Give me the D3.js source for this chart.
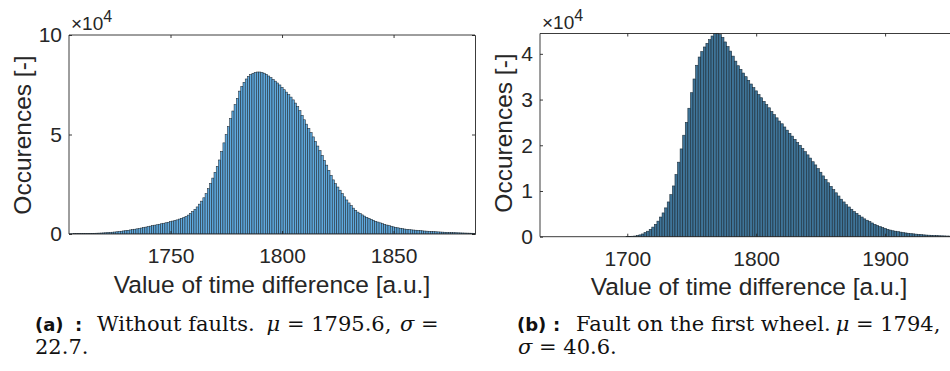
<!DOCTYPE html>
<html><head><meta charset="utf-8">
<script src="https://cdn.jsdelivr.net/npm/d3@7"></script>
<style>
html,body{margin:0;padding:0;background:#fff;}
svg{display:block;}
</style>
</head><body>
<svg id="c" width="950" height="371"></svg>
<script>
// ---------------- DATA ----------------
// Panel (a): histogram, bin width 1, first bin centred at 1705 (counts in thousands)
const binStartA = 1705;
const binWidthA = 1;
const countsA_k = [
0.10,0.12,0.14,0.16,0.18,0.20,0.22,0.24,0.27,0.30,
0.33,0.37,0.41,0.45,0.50,0.56,0.63,0.71,0.80,0.90,
1.00,1.12,1.25,1.40,1.55,1.70,1.87,2.05,2.22,2.40,
2.60,2.80,3.00,3.25,3.47,3.70,3.95,4.20,4.45,4.65,
4.90,5.15,5.40,5.65,5.90,6.20,6.50,6.80,7.10,7.50,
7.90,8.30,8.80,9.50,10.3,11.3,12.4,13.6,15.0,16.5,
18.2,20.3,22.8,25.4,28.1,31.0,34.0,37.2,41.5,45.8,
50.0,54.0,58.0,61.8,65.0,68.2,71.8,74.2,76.2,77.9,
79.2,80.1,80.7,81.2,81.4,81.4,81.2,80.8,80.2,79.4,
78.6,77.7,76.8,75.9,74.9,73.7,72.5,71.3,70.0,68.8,
67.4,65.8,64.0,62.0,59.6,57.4,55.2,53.1,51.0,48.8,
46.5,44.2,41.9,39.5,37.0,34.6,32.0,29.5,27.2,25.3,
23.6,22.0,20.3,18.7,17.1,15.6,14.3,13.0,11.9,11.0,
10.3,9.6,9.0,8.4,7.9,7.4,6.9,6.4,6.0,5.6,
5.2,4.85,4.5,4.2,3.9,3.6,3.35,3.1,2.9,2.7,
2.5,2.35,2.2,2.1,2.0,1.9,1.8,1.7,1.6,1.5,
1.42,1.35,1.27,1.2,1.13,1.06,1.0,0.94,0.88,0.83,
0.78,0.73,0.68,0.64,0.6,0.56,0.52,0.48,0.45,0.42,
0.39,0.36
];
// Panel (b): histogram, bin width 2, first bin centred at 1700 (counts in thousands)
const binStartB = 1700;
const binWidthB = 2;
const countsB_k = [
0.02,0.05,0.1,0.15,0.25,0.4,0.6,0.9,1.2,1.6,
2.1,2.7,3.4,4.3,5.2,6.3,7.6,9.2,11.1,13.6,
16.3,19.2,22.2,25.0,28.1,31.5,34.5,37.5,39.3,40.5,
41.5,42.3,43.1,43.9,44.4,44.5,44.2,43.6,42.6,41.6,
40.6,39.5,38.4,37.4,36.6,35.8,35.0,34.2,33.4,32.6,
31.9,31.1,30.4,29.6,28.9,28.2,27.4,26.7,26.0,25.3,
24.7,24.0,23.3,22.6,22.0,21.3,20.6,20.0,19.3,18.6,
17.9,17.2,16.4,15.7,14.9,14.1,13.3,12.5,11.8,11.0,
10.3,9.6,8.9,8.2,7.6,7.0,6.5,6.0,5.5,5.1,
4.7,4.3,3.9,3.6,3.3,3.0,2.7,2.45,2.2,2.0,
1.8,1.6,1.45,1.3,1.2,1.1,1.0,0.9,0.82,0.75,
0.68,0.62,0.56,0.5,0.45,0.4,0.36,0.33,0.3,0.27,
0.24,0.21,0.19,0.17,0.15,0.13,0.11
];
const xTicksA = [1750, 1800, 1850];
const yTicksA = [0, 50000, 100000];
const yTickLabelsA = ["0", "5", "10"];
const xTicksB = [1700, 1800, 1900];
const yTicksB = [0, 10000, 20000, 30000, 40000];
const yTickLabelsB = ["0", "1", "2", "3", "4"];
const xLabel = "Value of time difference [a.u.]";
const yLabel = "Occurences [-]";

// ---------------- DRAW ----------------
const svg = d3.select("#c");
svg.append("rect").attr("width",950).attr("height",371).attr("fill","#fff");
const axisCol = "#262626";
const sans = '"Liberation Sans", Arial, sans-serif';
const serif = '"DejaVu Serif", "Liberation Serif", serif';
const boldSans = '"DejaVu Sans", sans-serif';

function panel(o){
  const g = svg.append("g");
  const x = d3.scaleLinear().domain(o.xDom).range([o.left, o.right]);
  const y = d3.scaleLinear().domain(o.yDom).range([o.bottom, o.top]);
  const bins = o.counts.map((c,i)=>({c0: o.start + i*o.w - o.w/2, c1: o.start + i*o.w + o.w/2, v: c*1000}));
  const clipId = "clip"+o.id;
  svg.append("clipPath").attr("id",clipId).append("rect")
    .attr("x",o.left).attr("y",o.top-1).attr("width",o.right-o.left).attr("height",o.bottom-o.top+1);
  g.append("g").attr("clip-path",`url(#${clipId})`)
    .selectAll("rect").data(bins).join("rect")
    .attr("x",d=>x(d.c0)).attr("width",d=>x(d.c1)-x(d.c0))
    .attr("y",d=>y(d.v)).attr("height",d=>y(0)-y(d.v))
    .attr("fill",o.fill).attr("stroke",o.stroke).attr("stroke-width",o.sw);

  const fmt = (d,i)=>o.yLabels[i];
  const ax = g.append("g").attr("transform",`translate(0,${o.bottom})`)
    .call(d3.axisBottom(x).tickValues(o.xTicks).tickSize(-3).tickPadding(14).tickFormat(d3.format("d")));
  const axT = g.append("g").attr("transform",`translate(0,${o.top})`)
    .call(d3.axisTop(x).tickValues(o.xTicks).tickSize(-3).tickFormat(""));
  const ay = g.append("g").attr("transform",`translate(${o.left},0)`)
    .call(d3.axisLeft(y).tickValues(o.yTicks).tickSize(-3).tickPadding(7).tickFormat(fmt));
  const axes = [ax, axT, ay];
  if(o.rightAxis){
    const ar = g.append("g").attr("transform",`translate(${o.right},0)`)
      .call(d3.axisRight(y).tickValues(o.yTicks).tickSize(-3).tickFormat(""));
    axes.push(ar);
  }
  axes.forEach(a=>{
    a.select(".domain").attr("stroke",axisCol).attr("stroke-width",0.9);
    a.selectAll(".tick line").attr("stroke",axisCol).attr("stroke-width",0.9);
    a.selectAll(".tick text").attr("fill",axisCol).style("font-size","21px").style("font-family",sans);
  });
  ay.select(".domain").attr("d",`M0,${o.bottom}V${o.top}`);
  ax.select(".domain").attr("d",`M${o.left},0H${o.right}`);
  axT.select(".domain").attr("d",`M${o.left},0H${o.right}`);

  // exponent label
  const ex = g.append("text").attr("x",o.left+2).attr("y",o.top-5)
    .attr("fill",axisCol).style("font-family",sans).style("font-size","19px");
  ex.append("tspan").text("×10");
  ex.append("tspan").attr("dy",-8).style("font-size","16px").text("4");

  // axis labels
  g.append("text").attr("x",o.xlx).attr("y",o.xly).attr("text-anchor","middle")
    .attr("fill",axisCol).style("font-family",sans).style("font-size","24.5px").text(xLabel);
  g.append("text").attr("transform",`translate(${o.ylx},${o.yly}) rotate(-90)`).attr("text-anchor","middle")
    .attr("fill",axisCol).style("font-family",sans).style("font-size","24.5px").text(yLabel);

  // caption
  const capG = g.append("g").attr("fill","#111");
  capG.append("text").attr("x",o.capX).attr("y",331)
    .style("font-family",boldSans).style("font-weight","bold").style("font-size","18px").text(o.capTag);
  capG.append("text").attr("x",o.colonX).attr("y",331)
    .style("font-family",boldSans).style("font-weight","bold").style("font-size","18px").text(":");
  const cap = capG.append("text").attr("x",o.txtX).attr("y",331)
    .style("font-family",serif).style("font-size","21px");
  o.cap1.forEach(s=>{ const t=cap.append("tspan").text(s.t); if(s.i) t.style("font-style","italic"); if(s.dx) t.attr("dx",s.dx); });
  const cap2 = capG.append("text").attr("x",o.capX2).attr("y",354)
    .style("font-family",serif).style("font-size","21px");
  o.cap2.forEach(s=>{ const t=cap2.append("tspan").text(s.t); if(s.i) t.style("font-style","italic"); if(s.dx) t.attr("dx",s.dx); });
}

panel({id:"a", xDom:[1704.5,1886.5], yDom:[0,100000], left:69, right:475, top:35, bottom:234,
  counts:countsA_k, start:binStartA, w:binWidthA, fill:"#5ea9de", stroke:"#1f2a33", sw:0.55,
  xTicks:xTicksA, yTicks:yTicksA, yLabels:yTickLabelsA, rightAxis:true,
  xlx:272, xly:293, ylx:31, yly:135, capX:35, colonX:75, txtX:97, capX2:35, capTag:"(a)",
  cap1:[{t:"Without faults."},{t:"μ",i:1,dx:12},{t:" = 1795.6, "},{t:"σ",i:1,dx:2},{t:" ="}],
  cap2:[{t:"22.7."}]});

panel({id:"b", xDom:[1632.3,1955], yDom:[0,44450], left:540, right:956, top:33.5, bottom:236.7,
  counts:countsB_k, start:binStartB, w:binWidthB, fill:"#3f7498", stroke:"#1b2d3a", sw:0.6,
  xTicks:xTicksB, yTicks:yTicksB, yLabels:yTickLabelsB, rightAxis:false,
  xlx:749, xly:295, ylx:512, yly:133, capX:517, colonX:553, txtX:576, capX2:518, capTag:"(b)",
  cap1:[{t:"Fault on the first wheel."},{t:"μ",i:1,dx:5},{t:" = 1794,"}],
  cap2:[{t:"σ",i:1},{t:" = 40.6."}]});
</script>
</body></html>
